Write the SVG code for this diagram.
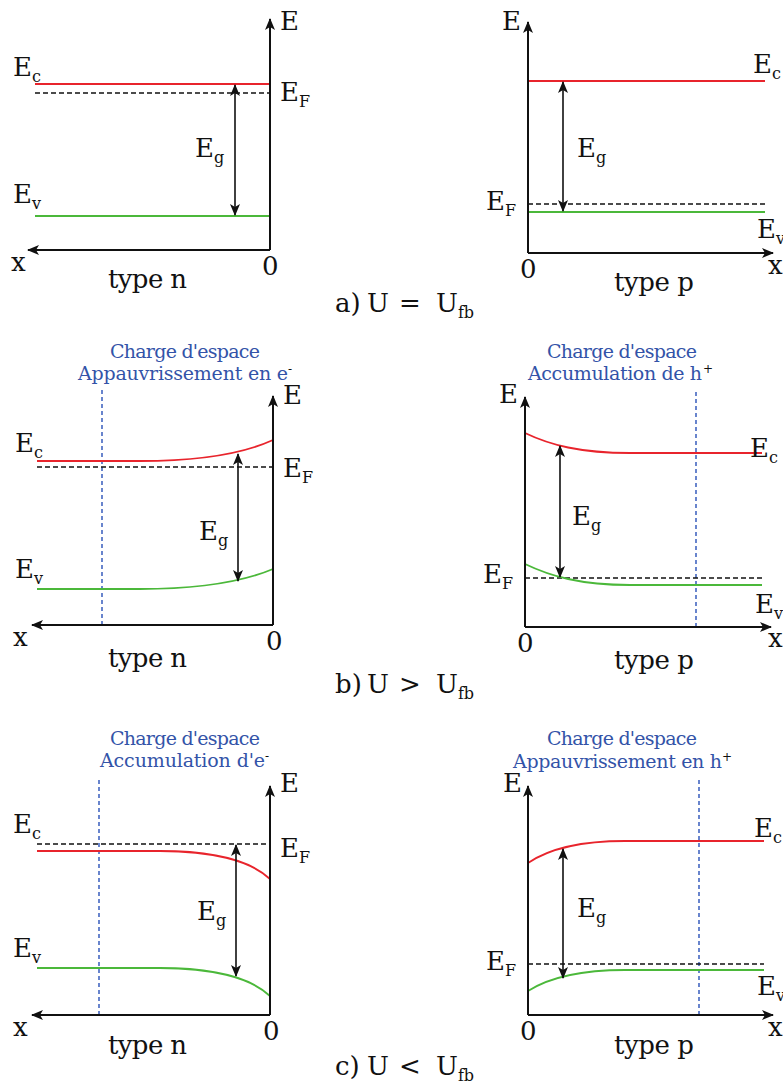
<svg xmlns="http://www.w3.org/2000/svg" width="783" height="1086" viewBox="0 0 783 1086" font-family="DejaVu Serif, Liberation Serif, serif">
<defs>
<marker id="ah" viewBox="0 0 12 10" refX="11" refY="5" markerWidth="12" markerHeight="10" markerUnits="userSpaceOnUse" orient="auto-start-reverse">
<path d="M0,0 L12,5 L0,10 L3,5 Z" fill="#111"/>
</marker>
</defs>
<style>
text{fill:#111}
.lab{font-size:26px}
.sub{font-size:16px}
.blue{font-size:19px;fill:#3353a8}
.sup{font-size:12px}
.axis{stroke:#111;stroke-width:2;fill:none}
.ec{stroke:#e8242c;stroke-width:1.8;fill:none}
.ev{stroke:#4bb83a;stroke-width:1.8;fill:none}
.ef{stroke:#111;stroke-width:1.5;stroke-dasharray:5,3;fill:none}
.eg{stroke:#111;stroke-width:1.6;fill:none}
.sc{stroke:#2a52b8;stroke-width:1.4;stroke-dasharray:4,3;fill:none}
</style>
<rect width="783" height="1086" fill="#fff"/>

<!-- Panel a left -->
<g id="a-n">
<path class="ec" d="M35,84 H270"/>
<path class="ef" d="M35,93 H270"/>
<path class="ev" d="M35,216 H270"/>
<path class="axis" d="M270,250 V19" marker-end="url(#ah)"/>
<path class="axis" d="M270,250 H28" marker-end="url(#ah)"/>
<path class="eg" d="M235,85 V215" marker-start="url(#ah)" marker-end="url(#ah)"/>
<text class="lab" x="13" y="76">E<tspan class="sub" dy="6">c</tspan></text>
<text class="lab" x="280" y="101">E<tspan class="sub" dy="6">F</tspan></text>
<text class="lab" x="280" y="30">E</text>
<text class="lab" x="195" y="157">E<tspan class="sub" dy="6">g</tspan></text>
<text class="lab" x="13" y="203">E<tspan class="sub" dy="6">v</tspan></text>
<text class="lab" x="11" y="271">x</text>
<text class="lab" x="262" y="275">0</text>
<text class="lab" x="108" y="288" textLength="79">type n</text>
</g>

<!-- Panel a right -->
<g id="a-p">
<path class="ec" d="M528,81 H765"/>
<path class="ef" d="M528,204 H765"/>
<path class="ev" d="M528,212 H765"/>
<path class="axis" d="M528,253 V22" marker-end="url(#ah)"/>
<path class="axis" d="M528,253 H773" marker-end="url(#ah)"/>
<path class="eg" d="M563,82 V211" marker-start="url(#ah)" marker-end="url(#ah)"/>
<text class="lab" x="502" y="30">E</text>
<text class="lab" x="753" y="73">E<tspan class="sub" dy="6">c</tspan></text>
<text class="lab" x="577" y="157">E<tspan class="sub" dy="6">g</tspan></text>
<text class="lab" x="486" y="210">E<tspan class="sub" dy="6">F</tspan></text>
<text class="lab" x="757" y="238">E<tspan class="sub" dy="6">v</tspan></text>
<text class="lab" x="768" y="274">x</text>
<text class="lab" x="520" y="278">0</text>
<text class="lab" x="614" y="291" textLength="80">type p</text>
</g>

<g id="cap-a">
<text class="lab" x="335" y="312">a)</text>
<text class="lab" x="367" y="312">U</text>
<text class="lab" x="410" y="312" text-anchor="middle">=</text>
<text class="lab" x="436" y="312">U<tspan class="sub" dy="6">fb</tspan></text>
</g>

<!-- Panel b left -->
<g id="b-n">
<text class="blue" x="110" y="358" textLength="150">Charge d'espace</text>
<text class="blue" x="78" y="380" textLength="210">Appauvrissement en e</text>
<text class="sup" x="288" y="373" fill="#3353a8">-</text>
<path class="sc" d="M102,390 V625"/>
<path class="ec" d="M37,461 H140 C190,461 240,455 273,440"/>
<path class="ef" d="M37,467 H273"/>
<path class="ev" d="M37,589 H140 C190,589 240,583 273,569"/>
<path class="axis" d="M273,625 V396" marker-end="url(#ah)"/>
<path class="axis" d="M273,625 H32" marker-end="url(#ah)"/>
<path class="eg" d="M238,454 V581" marker-start="url(#ah)" marker-end="url(#ah)"/>
<text class="lab" x="283" y="404">E</text>
<text class="lab" x="15" y="452">E<tspan class="sub" dy="6">c</tspan></text>
<text class="lab" x="283" y="477">E<tspan class="sub" dy="6">F</tspan></text>
<text class="lab" x="199" y="540">E<tspan class="sub" dy="6">g</tspan></text>
<text class="lab" x="15" y="578">E<tspan class="sub" dy="6">v</tspan></text>
<text class="lab" x="13" y="646">x</text>
<text class="lab" x="266" y="650">0</text>
<text class="lab" x="108" y="667" textLength="79">type n</text>
</g>

<!-- Panel b right -->
<g id="b-p">
<text class="blue" x="547" y="358" textLength="150">Charge d'espace</text>
<text class="blue" x="528" y="380" textLength="174">Accumulation de h</text>
<text class="sup" x="703" y="373" fill="#3353a8">+</text>
<path class="sc" d="M696,392 V627"/>
<path class="ec" d="M525,433 C550,445 580,453 630,453 H762"/>
<path class="ef" d="M525,578 H762"/>
<path class="ev" d="M525,564 C550,576 580,585 630,585 H762"/>
<path class="axis" d="M525,627 V397" marker-end="url(#ah)"/>
<path class="axis" d="M525,627 H771" marker-end="url(#ah)"/>
<path class="eg" d="M560,446 V577" marker-start="url(#ah)" marker-end="url(#ah)"/>
<text class="lab" x="499" y="403">E</text>
<text class="lab" x="750" y="457">E<tspan class="sub" dy="6">c</tspan></text>
<text class="lab" x="572" y="525">E<tspan class="sub" dy="6">g</tspan></text>
<text class="lab" x="483" y="583">E<tspan class="sub" dy="6">F</tspan></text>
<text class="lab" x="755" y="613">E<tspan class="sub" dy="6">v</tspan></text>
<text class="lab" x="768" y="647">x</text>
<text class="lab" x="517" y="652">0</text>
<text class="lab" x="614" y="669" textLength="80">type p</text>
</g>

<g id="cap-b">
<text class="lab" x="335" y="693">b)</text>
<text class="lab" x="367" y="693">U</text>
<text class="lab" x="410" y="693" text-anchor="middle">&gt;</text>
<text class="lab" x="436" y="693">U<tspan class="sub" dy="6">fb</tspan></text>
</g>

<!-- Panel c left -->
<g id="c-n">
<text class="blue" x="110" y="745" textLength="150">Charge d'espace</text>
<text class="blue" x="100" y="767" textLength="165">Accumulation d'e</text>
<text class="sup" x="265" y="760" fill="#3353a8">-</text>
<path class="sc" d="M99,780 V1015"/>
<path class="ef" d="M37,844 H270"/>
<path class="ec" d="M37,851 H160 C210,851 250,860 270,879"/>
<path class="ev" d="M37,968 H160 C210,968 250,977 270,996"/>
<path class="axis" d="M270,1015 V786" marker-end="url(#ah)"/>
<path class="axis" d="M270,1015 H32" marker-end="url(#ah)"/>
<path class="eg" d="M236,845 V976" marker-start="url(#ah)" marker-end="url(#ah)"/>
<text class="lab" x="280" y="792">E</text>
<text class="lab" x="13" y="833">E<tspan class="sub" dy="6">c</tspan></text>
<text class="lab" x="280" y="857">E<tspan class="sub" dy="6">F</tspan></text>
<text class="lab" x="197" y="920">E<tspan class="sub" dy="6">g</tspan></text>
<text class="lab" x="13" y="957">E<tspan class="sub" dy="6">v</tspan></text>
<text class="lab" x="13" y="1036">x</text>
<text class="lab" x="263" y="1040">0</text>
<text class="lab" x="108" y="1054" textLength="79">type n</text>
</g>

<!-- Panel c right -->
<g id="c-p">
<text class="blue" x="547" y="745" textLength="150">Charge d'espace</text>
<text class="blue" x="513" y="768" textLength="209">Appauvrissement en h</text>
<text class="sup" x="722" y="761" fill="#3353a8">+</text>
<path class="sc" d="M699,780 V1015"/>
<path class="ec" d="M528,863 C550,848 580,841 625,841 H764"/>
<path class="ef" d="M528,964 H764"/>
<path class="ev" d="M528,991 C550,977 580,970 625,970 H764"/>
<path class="axis" d="M528,1015 V786" marker-end="url(#ah)"/>
<path class="axis" d="M528,1015 H773" marker-end="url(#ah)"/>
<path class="eg" d="M563,849 V978" marker-start="url(#ah)" marker-end="url(#ah)"/>
<text class="lab" x="503" y="792">E</text>
<text class="lab" x="754" y="837">E<tspan class="sub" dy="6">c</tspan></text>
<text class="lab" x="577" y="917">E<tspan class="sub" dy="6">g</tspan></text>
<text class="lab" x="486" y="970">E<tspan class="sub" dy="6">F</tspan></text>
<text class="lab" x="757" y="995">E<tspan class="sub" dy="6">v</tspan></text>
<text class="lab" x="768" y="1036">x</text>
<text class="lab" x="520" y="1040">0</text>
<text class="lab" x="614" y="1054" textLength="80">type p</text>
</g>

<g id="cap-c">
<text class="lab" x="335" y="1075">c)</text>
<text class="lab" x="367" y="1075">U</text>
<text class="lab" x="410" y="1075" text-anchor="middle">&lt;</text>
<text class="lab" x="436" y="1075">U<tspan class="sub" dy="6">fb</tspan></text>
</g>
</svg>
